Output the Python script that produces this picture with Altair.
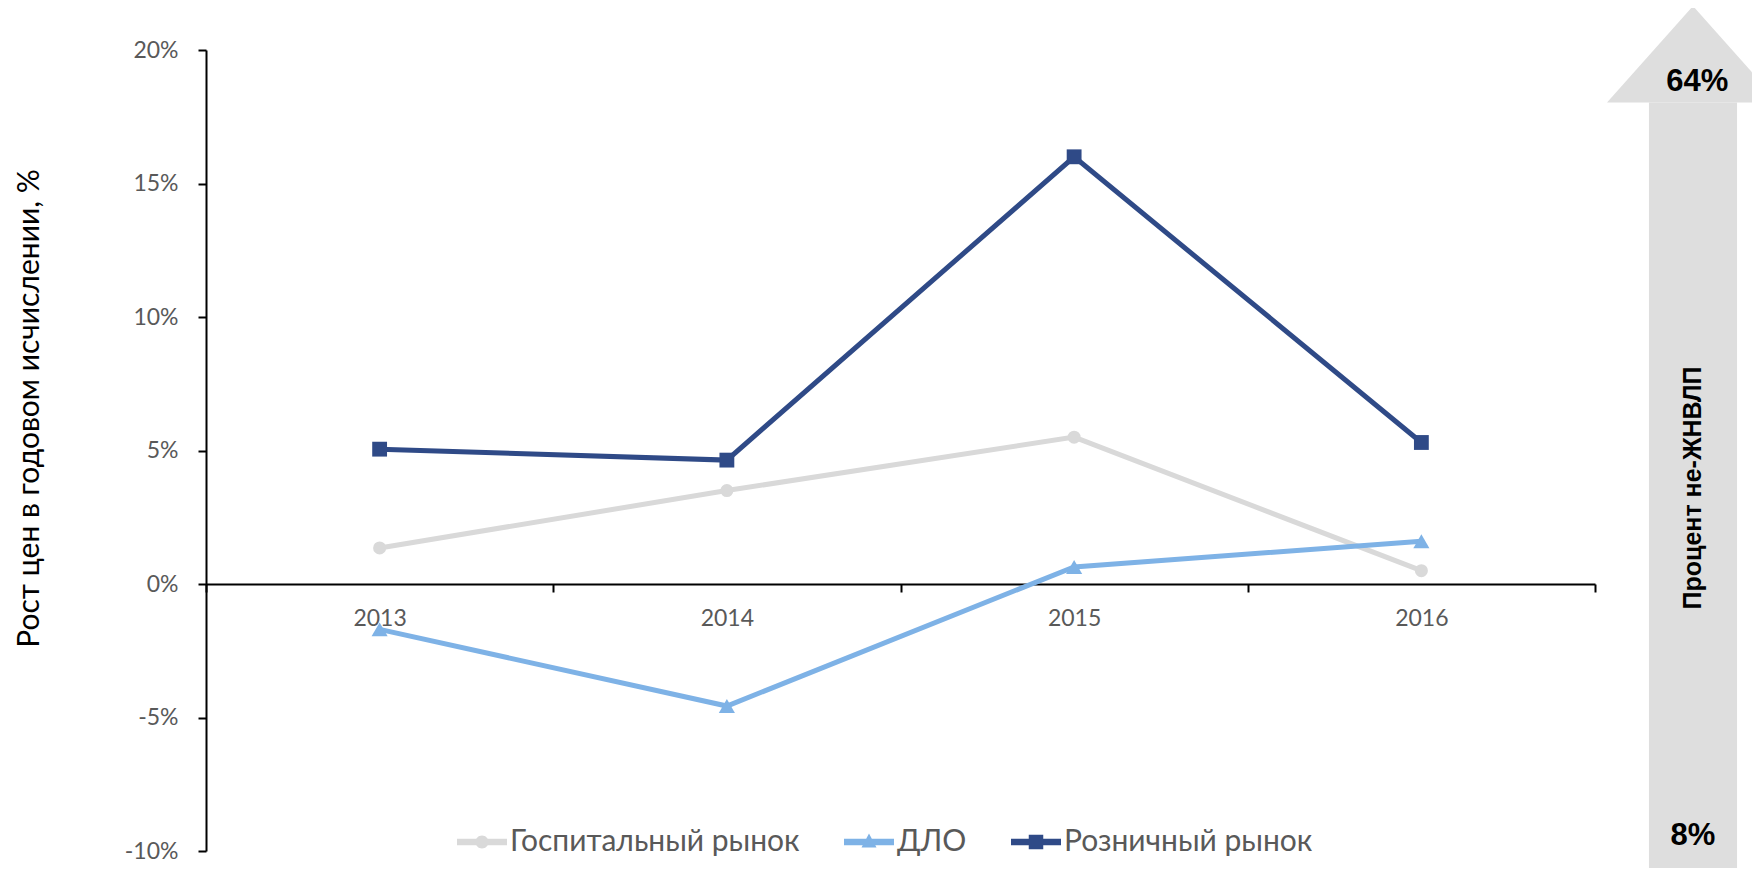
import altair as alt
import pandas as pd

# ---- data ----
years = ["2013", "2014", "2015", "2016"]
series_names = ["Госпитальный рынок", "ДЛО", "Розничный рынок"]
hospital = [0.0135, 0.035, 0.055, 0.005]
dlo = [-0.017, -0.0457, 0.0064, 0.016]
retail = [0.0505, 0.0464, 0.160, 0.053]
y_ticks = [-0.10, -0.05, 0.0, 0.05, 0.10, 0.15, 0.20]

colors = ["#D9D9D9", "#7EB2E6", "#2F4A87"]
marker_shapes = ["circle", "triangle-up", "square"]
marker_sizes = [170, 260, 220]
legend_paths = [
    "M-1,-0.13H1V0.13H-1Z M0.26,0A0.26,0.26,0,1,1,-0.26,0A0.26,0.26,0,1,1,0.26,0Z",
    "M-1,-0.13H1V0.13H-1Z M0,-0.34L0.30,0.22L-0.30,0.22Z",
    "M-1,-0.13H1V0.13H-1Z M-0.29,-0.29H0.29V0.29H-0.29Z",
]

# side arrow (unit coordinates of the decoration)
arrow_head_x = [-1.0, 0.0, 1.0]
arrow_head_y = [0.889, 1.0, 0.889]
arrow_shaft_x = [-0.512, 0.512]
arrow_shaft_y = [0.0, 0.889]
arrow_values = ["64%", "8%"]
arrow_value_y = [0.913, 0.046]
arrow_title = "Процент не-ЖНВЛП"
arrow_title_y = 0.446

rows = []
for s, vals in zip(series_names, [hospital, dlo, retail]):
    for yr, v in zip(years, vals):
        rows.append({"year": yr, "series": s, "value": v})
df = pd.DataFrame(rows)

FONT = "Lato"
GREY_TXT = "#595959"

x_enc = alt.X(
    "year:O",
    sort=years,
    scale=alt.Scale(type="band", range=[0, 1389], paddingInner=0, paddingOuter=0),
    axis=alt.Axis(
        title=None,
        offset=-267,
        tickBand="extent",
        labelAngle=0,
        labelFont=FONT,
        labelFontSize=23,
        labelColor=GREY_TXT,
        labelPadding=15,
        tickSize=8,
        tickWidth=2,
        tickColor="black",
        domainColor="black",
        domainWidth=2,
        grid=False,
    ),
)
y_enc = alt.Y(
    "value:Q",
    scale=alt.Scale(domain=[-0.1, 0.2], nice=False, zero=False),
    axis=alt.Axis(
        values=y_ticks,
        labelExpr="round(datum.value * 100) + '%'",
        title="Рост цен в годовом исчислении, %",
        titleFont=FONT,
        titleFontSize=30,
        titleFontWeight="normal",
        titleColor="black",
        titleAngle=270,
        titleX=-177,
        titleY=358,
        titleAlign="center",
        titleBaseline="middle",
        labelFont=FONT,
        labelFontSize=23,
        labelColor=GREY_TXT,
        labelPadding=20,
        tickSize=8,
        tickWidth=2,
        tickColor="black",
        domainColor="black",
        domainWidth=2,
        grid=False,
    ),
)

color_scale = alt.Scale(domain=series_names, range=colors)

base = alt.Chart(df)

lines = base.mark_line(strokeWidth=5).encode(
    x=x_enc,
    y=y_enc,
    color=alt.Color("series:N", scale=color_scale, legend=None),
    order=alt.Order("year:O"),
)

point_layers = []
for s, c, shp, sz in zip(series_names, colors, marker_shapes, marker_sizes):
    point_layers.append(
        base.transform_filter(alt.datum.series == s)
        .mark_point(filled=True, opacity=1, shape=shp, size=sz, color=c)
        .encode(x=x_enc, y=y_enc)
    )

legend_kw = dict(
    title=None,
    orient="none",
    legendX=251,
    legendY=767,
    direction="horizontal",
    labelFont=FONT,
    labelFontSize=30,
    labelColor=GREY_TXT,
    labelLimit=0,
    symbolSize=2500,
    symbolStrokeWidth=0,
    symbolOpacity=1,
    labelOffset=3,
    columnPadding=44,
)
# invisible marks that only carry the legend (line + marker symbols)
legend_layer = (
    base.mark_point(filled=True, opacity=0, size=1)
    .encode(
        x=x_enc,
        y=y_enc,
        color=alt.Color("series:N", scale=color_scale, legend=alt.Legend(**legend_kw)),
        shape=alt.Shape(
            "series:N",
            scale=alt.Scale(domain=series_names, range=legend_paths),
            legend=alt.Legend(**legend_kw),
        ),
    )
)

main = alt.layer(legend_layer, lines, *point_layers)

# ---- arrow decoration ----
ax_scale = alt.Scale(domain=[-1, 1], range=[1401, 1573])
ay_scale = alt.Scale(domain=[0, 1], range=[826, -44])
ARROW_FILL = "#DEDEDE"

head_df = pd.DataFrame({"x": arrow_head_x, "y": arrow_head_y, "y2": [arrow_head_y[0]] * 3})
head = alt.Chart(head_df).mark_area(color=ARROW_FILL, opacity=1).encode(
    x=alt.X("x:Q", scale=ax_scale, axis=None),
    y=alt.Y("y:Q", scale=ay_scale, axis=None),
    y2="y2:Q",
)
shaft_df = pd.DataFrame({"x": [arrow_shaft_x[0]], "x2": [arrow_shaft_x[1]],
                         "y": [arrow_shaft_y[0]], "y2": [arrow_shaft_y[1]]})
shaft = alt.Chart(shaft_df).mark_rect(color=ARROW_FILL, opacity=1).encode(
    x=alt.X("x:Q", scale=ax_scale, axis=None),
    x2="x2:Q",
    y=alt.Y("y:Q", scale=ay_scale, axis=None),
    y2="y2:Q",
)
vals_df = pd.DataFrame({"t": arrow_values, "x": [0.05, 0.0], "y": arrow_value_y})
val_text = alt.Chart(vals_df).mark_text(
    font="Liberation Sans", fontWeight="bold", fontSize=31, color="black",
    align="center", baseline="middle",
).encode(
    x=alt.X("x:Q", scale=ax_scale, axis=None),
    y=alt.Y("y:Q", scale=ay_scale, axis=None),
    text="t:N",
)
title_df = pd.DataFrame({"t": [arrow_title], "x": [0.0], "y": [arrow_title_y]})
title_text = alt.Chart(title_df).mark_text(
    font="Liberation Sans Narrow, Liberation Sans", fontWeight="bold", fontSize=25,
    color="black", angle=270, align="center", baseline="middle",
).encode(
    x=alt.X("x:Q", scale=ax_scale, axis=None),
    y=alt.Y("y:Q", scale=ay_scale, axis=None),
    text="t:N",
)
arrow = alt.layer(shaft, head, val_text, title_text)

chart = (
    alt.layer(arrow, main)
    .resolve_scale(x="independent", y="independent")
    .properties(
        width=1546,
        height=801,
        autosize=alt.AutoSizeParams(type="none"),
        padding={"left": 198, "top": 42, "right": 0, "bottom": 17},
        background="white",
    )
    .configure_view(stroke=None)
)

chart.save("out.html", embed_options={"renderer": "svg", "actions": False})
